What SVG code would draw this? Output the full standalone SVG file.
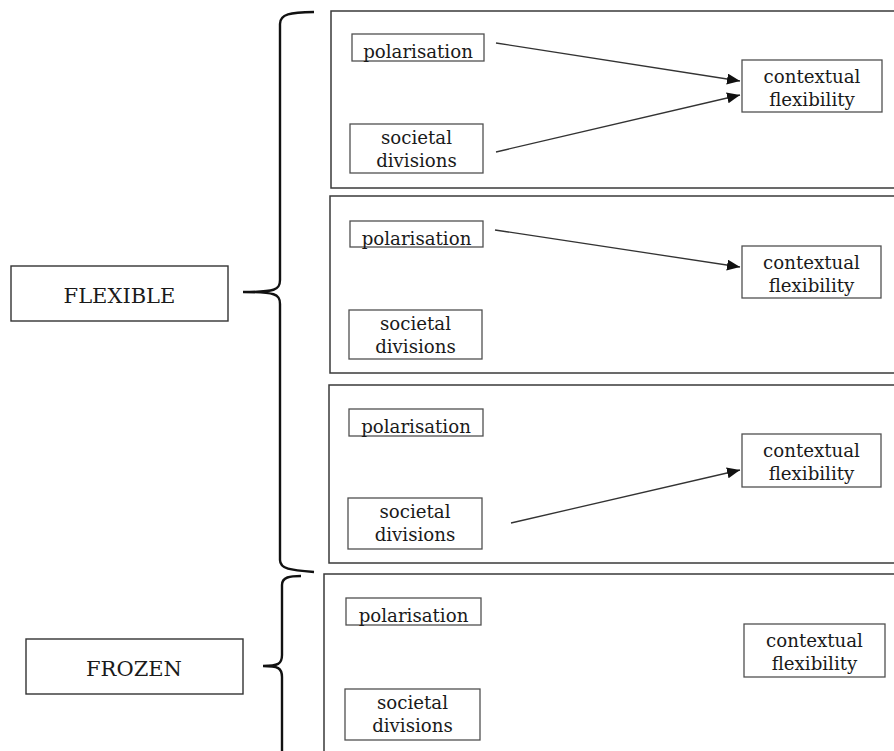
<svg xmlns="http://www.w3.org/2000/svg" width="894" height="751" viewBox="0 0 894 751">
<style>
.panel{fill:none;stroke:#3a3a3a;stroke-width:1.5}
.box{fill:#fff;stroke:#505050;stroke-width:1.3}
.lab{fill:#fff;stroke:#333;stroke-width:1.4}
.t{font-family:"DejaVu Serif","Liberation Serif",serif;font-size:18.2px;fill:#1a1a1a;text-anchor:middle}
.T{font-family:"DejaVu Serif","Liberation Serif",serif;font-size:21px;fill:#1a1a1a;text-anchor:middle}
.brace{fill:none;stroke:#111;stroke-width:2.4}
.edge{fill:none;stroke:#333;stroke-width:1.3}
</style>
<defs>
<marker id="ah" markerUnits="userSpaceOnUse" markerWidth="14" markerHeight="12" refX="13" refY="5.5" orient="auto">
<path d="M0,0 L13,5.5 L0,11 z" fill="#111"/>
</marker>
</defs>
<rect width="894" height="751" fill="#fff"/>

<g id="flexible">
<rect class="lab" x="11" y="266" width="217" height="55"/>
<text class="T" x="119.5" y="303">FLEXIBLE</text>
</g>
<g id="frozen">
<rect class="lab" x="26" y="639" width="217" height="55"/>
<text class="T" x="134" y="676">FROZEN</text>
</g>

<g id="braces">
<path class="brace" d="M314,12 C290,12.5 280,14 280,24 L280,280 C280,290 275,292 243,292 C275,292 280,294 280,304 L280,560 C280,569 290,570 314,572"/>
<path class="brace" d="M301,576 C290,576 282,577 282,585 L282,655 C282,664 278,666 263,666 C278,666 282,668 282,677 L282,760"/>
</g>

<g id="panels">
<rect class="panel" x="331" y="11" width="580" height="177"/>
<rect class="panel" x="330" y="196" width="580" height="177"/>
<rect class="panel" x="329" y="385" width="580" height="178"/>
<rect class="panel" x="324" y="574" width="590" height="200"/>
</g>

<g id="p1-polarisation"><rect class="box" x="352" y="34" width="132" height="27"/><text class="t" x="418" y="58">polarisation</text></g>
<g id="p1-societal"><rect class="box" x="350" y="124" width="133" height="49"/><text class="t" x="416.5" y="143.5">societal</text><text class="t" x="416.5" y="166.5">divisions</text></g>
<g id="p1-contextual"><rect class="box" x="742" y="60" width="140" height="52"/><text class="t" x="812" y="83">contextual</text><text class="t" x="812" y="105.5">flexibility</text></g>

<g id="p2-polarisation"><rect class="box" x="350" y="221" width="133" height="26"/><text class="t" x="416.5" y="244.5">polarisation</text></g>
<g id="p2-societal"><rect class="box" x="349" y="310" width="133" height="49"/><text class="t" x="415.5" y="329.5">societal</text><text class="t" x="415.5" y="352.5">divisions</text></g>
<g id="p2-contextual"><rect class="box" x="742" y="246" width="139" height="52"/><text class="t" x="811.5" y="269">contextual</text><text class="t" x="811.5" y="291.5">flexibility</text></g>

<g id="p3-polarisation"><rect class="box" x="349" y="409" width="134" height="27"/><text class="t" x="416" y="433">polarisation</text></g>
<g id="p3-societal"><rect class="box" x="348" y="498" width="134" height="51"/><text class="t" x="415" y="518">societal</text><text class="t" x="415" y="541">divisions</text></g>
<g id="p3-contextual"><rect class="box" x="742" y="434" width="139" height="53"/><text class="t" x="811.5" y="457">contextual</text><text class="t" x="811.5" y="479.5">flexibility</text></g>

<g id="p4-polarisation"><rect class="box" x="346" y="598" width="135" height="27"/><text class="t" x="413.5" y="622">polarisation</text></g>
<g id="p4-societal"><rect class="box" x="345" y="689" width="135" height="51"/><text class="t" x="412.5" y="709">societal</text><text class="t" x="412.5" y="732">divisions</text></g>
<g id="p4-contextual"><rect class="box" x="744" y="624" width="141" height="53"/><text class="t" x="814.5" y="647">contextual</text><text class="t" x="814.5" y="669.5">flexibility</text></g>

<g id="connectors">
<line class="edge" x1="496" y1="43" x2="740" y2="81" marker-end="url(#ah)"/>
<line class="edge" x1="496" y1="152" x2="740" y2="95" marker-end="url(#ah)"/>
<line class="edge" x1="495" y1="230" x2="740" y2="267" marker-end="url(#ah)"/>
<line class="edge" x1="511" y1="523" x2="740" y2="470" marker-end="url(#ah)"/>
</g>
</svg>
